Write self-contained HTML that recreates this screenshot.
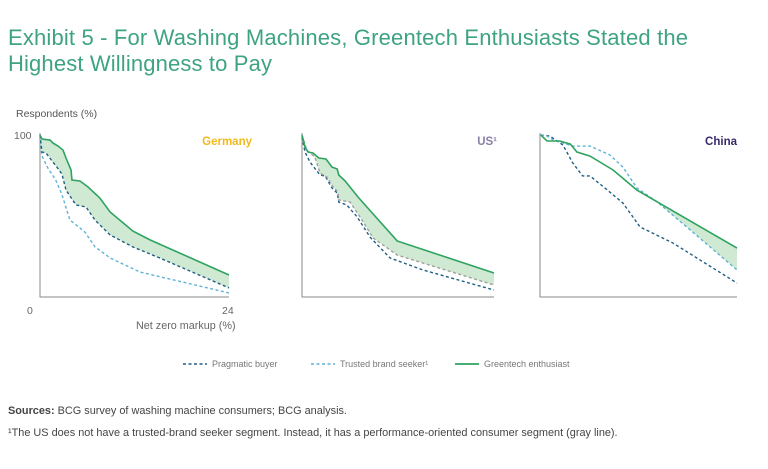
<!DOCTYPE html>
<html><head><meta charset="utf-8"><style>
body{margin:0;background:#fff;width:768px;height:464px;overflow:hidden;font-family:"Liberation Sans",sans-serif}
</style></head><body>
<svg width="768" height="464" xmlns="http://www.w3.org/2000/svg">
<text x="8" y="45" font-size="22" fill="#3ea383" textLength="680">Exhibit 5 - For Washing Machines, Greentech Enthusiasts Stated the</text>
<text x="8" y="71" font-size="22" fill="#3ea383" textLength="264">Highest Willingness to Pay</text>
<text x="16" y="117" font-size="10.5" fill="#555">Respondents (%)</text>
<text x="14" y="139" font-size="10.5" fill="#666">100</text>
<text x="27" y="314" font-size="10.5" fill="#666">0</text>
<text x="222" y="314" font-size="10.5" fill="#666">24</text>
<text x="136" y="329" font-size="10.8" fill="#666">Net zero markup (%)</text>
<g id="panels"></g>
<g>
<line x1="183" y1="364" x2="207" y2="364" stroke="#1f5f86" stroke-width="1.5" stroke-dasharray="3,2.5"/>
<text x="212" y="367" font-size="9" fill="#777">Pragmatic buyer</text>
<line x1="311" y1="364" x2="335" y2="364" stroke="#5fb3d6" stroke-width="1.5" stroke-dasharray="3,2.5"/>
<text x="340" y="367" font-size="9" fill="#777">Trusted brand seeker¹</text>
<line x1="455" y1="364" x2="479" y2="364" stroke="#2fa35f" stroke-width="1.8"/>
<text x="484" y="367" font-size="9" fill="#777">Greentech enthusiast</text>
</g>
<text x="8" y="414" font-size="10.9" fill="#444"><tspan font-weight="bold">Sources:</tspan> BCG survey of washing machine consumers; BCG analysis.</text>
<text x="8" y="436" font-size="10.9" fill="#444">¹The US does not have a trusted-brand seeker segment. Instead, it has a performance-oriented consumer segment (gray line).</text>
</svg>
<script>
const deGreenX=[0,0.25,1.27,1.65,2.29,2.92,3.3,3.94,4.06,5.08,6.1,7.6,8.9,11.8,14,24];
const deGreenY=[100,97.5,96.9,95,93.2,90.7,85.8,78.4,72.2,71.6,67.9,61.1,52.5,40.7,35.2,13.6];
const dePragX=[0,0.25,0.76,1.52,2.03,2.79,3.3,4.57,5.84,6.98,8.9,11.8,15.2,24];
const dePragY=[100,89.5,88.9,84,80.9,75.9,66,56.8,55.6,47.5,38.3,30.9,24.1,5.6];
const deTrustX=[0,0.25,1,2,2.8,3.8,4.6,5.7,7,8.9,12.7,24];
const deTrustY=[97,87,79.6,72.2,63,47.5,44.4,40.1,30.9,24.1,15.4,2.5];
const usGreenX=[0,0.375,0.75,1.375,2.1,3,3.75,4.4,4.6,5.4,7,11.9,24];
const usGreenY=[100,92.6,89.5,88.9,85.8,85.2,80.2,79,75.3,71.6,61.7,34.6,14.8];
const usPragX=[0,0.375,1,2.25,2.9,3.75,4.4,4.6,5.6,6.9,8.5,11,15.1,24];
const usPragY=[98.8,89.5,83.3,75.3,74.7,67.3,64.2,58.6,56.8,49.4,37,24.1,16.7,4.3];
const usPerfX=[0,0.6,1.6,2.25,3.1,3.9,4.5,4.6,6,7.25,8.9,11.9,24];
const usPerfY=[100,90.7,86.4,76.5,74.1,67.9,64.8,59.9,58.6,49.4,36.4,25.9,7.4];
const cnGreenX=[0.1,0.85,2.4,3.7,4.5,6.1,8.9,11.8,24];
const cnGreenY=[100,96.3,96.3,94.4,89.5,87,78.4,66,30.2];
const cnTrustX=[0.1,0.85,1.6,4,6.1,8.5,10.1,11.8,14.3,18.3,24];
const cnTrustY=[100,99.4,96.9,93.2,93.2,87.7,80.2,67.3,58.6,41.4,16.7];
const cnPragX=[0.1,1.2,2.8,4,5.2,6.1,8.5,10.1,12.2,16.2,24];
const cnPragY=[100,99.4,93.8,82.7,74.7,74.7,64.8,58,43.2,33.3,8.6];
const panelNames=['germany','us','china'];
const panelTitles=['Germany','US¹','China'];

const NS='http://www.w3.org/2000/svg';
const root=document.getElementById('panels');
const panels=[
 {x0:40,x1:229,tc:'#f2b91f',tx:252,g:[deGreenX,deGreenY],low:[dePragX,dePragY],
  lines:[[deTrustX,deTrustY,'#5fb3d6','trusted'],[dePragX,dePragY,'#1f5f86','pragmatic']]},
 {x0:302,x1:494,tc:'#8a7fa8',tx:497,g:[usGreenX,usGreenY],low:[usPerfX,usPerfY],
  lines:[[usPragX,usPragY,'#1f5f86','pragmatic'],[usPerfX,usPerfY,'#a0a0a0','performance']]},
 {x0:540,x1:737,tc:'#3b2a6b',tx:737,g:[cnGreenX,cnGreenY],low:[cnTrustX,cnTrustY],
  lines:[[cnPragX,cnPragY,'#1f5f86','pragmatic'],[cnTrustX,cnTrustY,'#5fb3d6','trusted']]}
];
const yTop=135,yBot=297;
function el(t,a){const e=document.createElementNS(NS,t);for(const k in a)e.setAttribute(k,a[k]);return e;}
panels.forEach((p,i)=>{
 const sx=v=>p.x0+v*(p.x1-p.x0)/24;
 const sy=v=>yBot-v*(yBot-yTop)/100;
 const pts=(X,Y)=>X.map((v,j)=>sx(v)+','+sy(Y[j]));
 const g=el('g',{});
 
 
 root.appendChild(g);
 const cid='clip'+i;
 const cp=el('clipPath',{id:cid});
 cp.appendChild(el('polygon',{points:pts(p.g[0],p.g[1]).concat([sx(24)+','+yBot,sx(0)+','+yBot]).join(' ')}));
 g.appendChild(cp);
 const lowPts=pts(p.low[0],p.low[1]).reverse();
 const area=el('polygon',{points:pts(p.g[0],p.g[1]).concat(lowPts).join(' '),fill:'#cfe9d3','clip-path':'url(#'+cid+')'});
 
 
 g.appendChild(area);
 const ax=el('polyline',{points:`${p.x0},${yTop-2} ${p.x0},${yBot} ${p.x1},${yBot}`,fill:'none',stroke:'#888','stroke-width':1});
 
 
 g.appendChild(ax);
 p.lines.forEach(l=>{
  const pl=el('polyline',{points:pts(l[0],l[1]).join(' '),fill:'none',stroke:l[2],'stroke-width':1.4,'stroke-dasharray':'3,2.5'});
  
  
  g.appendChild(pl);
 });
 const gl=el('polyline',{points:pts(p.g[0],p.g[1]).join(' '),fill:'none',stroke:'#2fa35f','stroke-width':1.6});
 
 
 g.appendChild(gl);
 const t=el('text',{x:p.tx,y:145,'font-size':11.5,'font-weight':'bold',fill:p.tc,'text-anchor':'end'});
 t.textContent=panelTitles[i];
 
 
 g.appendChild(t);
});
</script>
</body></html>
